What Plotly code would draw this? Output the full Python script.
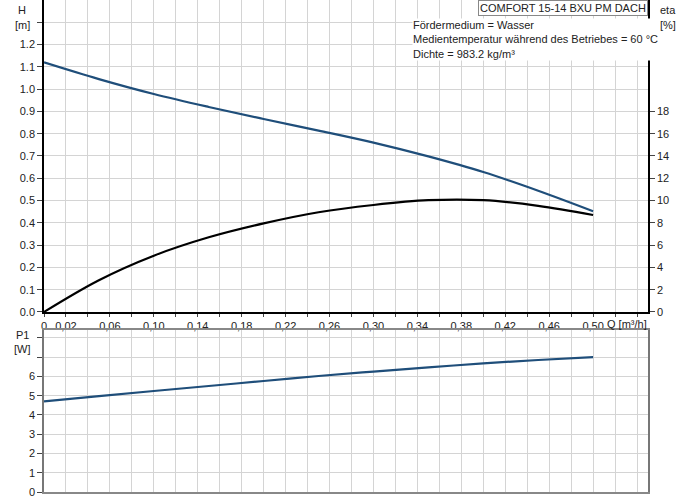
import plotly.graph_objects as go

# pump curve data
q = [0.0, 0.05, 0.10, 0.15, 0.20, 0.25, 0.30, 0.35, 0.40, 0.45, 0.50]
head = [1.12, 1.045, 0.978, 0.92, 0.866, 0.814, 0.76, 0.698, 0.628, 0.544, 0.452]
eta = [0.0, 2.85, 5.05, 6.7, 7.95, 8.95, 9.6, 10.03, 10.03, 9.52, 8.7]
p1 = [4.7, 4.98, 5.24, 5.5, 5.76, 6.02, 6.25, 6.47, 6.67, 6.85, 7.0]

q_grid = [round(0.02 * i, 2) for i in range(28)]
q_labeled = [0, 0.02, 0.06, 0.10, 0.14, 0.18, 0.22, 0.26, 0.30, 0.34, 0.38, 0.42, 0.46, 0.50]
q_labels = []
for v in q_grid:
    if v == 0:
        q_labels.append("0")
    elif v in q_labeled:
        q_labels.append(("%.2f" % v).replace(".", ","))
    else:
        q_labels.append("")
h_ticks = [0.0, 0.1, 0.2, 0.3, 0.4, 0.5, 0.6, 0.7, 0.8, 0.9, 1.0, 1.1, 1.2, 1.3]
h_labels = ["%.1f" % v for v in h_ticks[:-1]] + [""]
eta_ticks = [0, 2, 4, 6, 8, 10, 12, 14, 16, 18]
p_ticks = [0, 1, 2, 3, 4, 5, 6, 7, 8]
p_labels = ["0", "1", "2", "3", "4", "5", "6", "", ""]

blue = "#1f4e7a"
grid = "#d4d4d4"
font = dict(family="Liberation Sans, Arial, sans-serif", size=11, color="#222")

fig = go.Figure()
fig.add_trace(go.Scatter(x=q, y=head, mode="lines", line=dict(color=blue, width=2.2, shape="spline"),
                         xaxis="x", yaxis="y"))
fig.add_trace(go.Scatter(x=q, y=eta, mode="lines", line=dict(color="black", width=2.2, shape="spline"),
                         xaxis="x", yaxis="y2"))
fig.add_trace(go.Scatter(x=q, y=p1, mode="lines", line=dict(color=blue, width=2.2, shape="spline"),
                         xaxis="x2", yaxis="y3"))

top_dom = [0.366, 1.0]
bot_dom = [0.0, 0.329]

fig.update_layout(
    width=691, height=500,
    margin=dict(l=44, r=43, t=0, b=8),
    paper_bgcolor="white", plot_bgcolor="white",
    showlegend=False, font=font,
    xaxis=dict(domain=[0, 1], range=[0, 0.55], anchor="y", automargin=False,
               tickvals=q_grid, ticktext=q_labels, ticks="outside", ticklen=3,
               showgrid=True, gridcolor=grid, gridwidth=1,
               showline=True, linecolor="black", linewidth=1.5,
               zeroline=False, tickfont=font),
    yaxis=dict(domain=top_dom, range=[0, 1.4], anchor="x", automargin=False,
               tickvals=h_ticks, ticktext=h_labels,
               ticks="outside", ticklen=5, showgrid=True, gridcolor=grid, gridwidth=1,
               showline=True, linecolor="black", linewidth=1.5, zeroline=False, tickfont=font),
    yaxis2=dict(overlaying="y", side="right", range=[0, 28], anchor="x", automargin=False,
                tickvals=eta_ticks, ticks="outside", ticklen=5, showgrid=False,
                showline=True, linecolor="black", linewidth=1.5, zeroline=False, tickfont=font),
    xaxis2=dict(domain=[0, 1], range=[0, 0.55], anchor="y3", automargin=False,
                tickvals=q_grid, showticklabels=False, ticks="",
                showgrid=True, gridcolor=grid, gridwidth=1,
                showline=True, mirror=True, linecolor="#888", linewidth=1.5, zeroline=False),
    yaxis3=dict(domain=bot_dom, range=[0, 8.4], anchor="x2", automargin=False,
                tickvals=p_ticks, ticktext=p_labels, ticks="outside", ticklen=5,
                showgrid=True, gridcolor=grid, gridwidth=1,
                showline=True, mirror=True, linecolor="#777", linewidth=1.5,
                zeroline=False, tickfont=font),
)

def px(xp):
    return (xp - 44) / 604.0

def py(yp):
    return (492 - yp) / 492.0

def label(text, x, y):
    fig.add_annotation(text=text, xref="paper", yref="paper", x=px(x), y=py(y),
                       xanchor="center", yanchor="middle", showarrow=False, font=font)

# axis titles
label("H", 22, 10)
label("[m]", 22, 25)
label("eta", 668, 10)
label("[%]", 668, 25)
label("P1", 22, 335)
label("[W]", 22, 349)
label("Q [m³/h]", 627, 324)

fig.add_annotation(text="COMFORT 15-14 BXU PM DACH", xref="paper", yref="paper",
                   x=1.0, y=1.0, xanchor="right", yanchor="top", showarrow=False,
                   font=font, bgcolor="white", bordercolor="#888", borderwidth=1, borderpad=1)
fig.add_annotation(text="Fördermedium = Wasser<br>Medientemperatur während des Betriebes = 60 °C"
                        "<br>Dichte = 983.2 kg/m³",
                   xref="paper", yref="paper", x=px(412), y=py(18), xanchor="left", yanchor="top",
                   align="left", showarrow=False, font=font, bgcolor="white", borderpad=0)

fig.write_html("out.html", config={"displayModeBar": False},
               post_script="document.body.style.margin='0';")
